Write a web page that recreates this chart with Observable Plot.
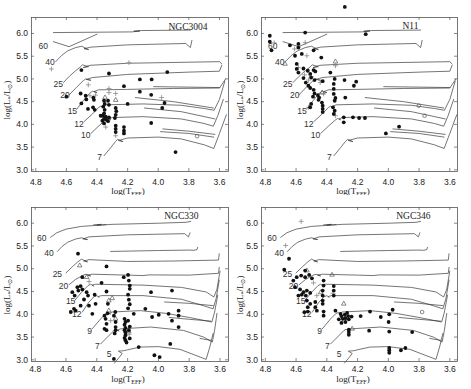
<!DOCTYPE html>
<html><head><meta charset="utf-8">
<script src="https://cdn.jsdelivr.net/npm/d3@7"></script>
<script src="https://cdn.jsdelivr.net/npm/@observablehq/plot@0.6"></script>
<style>
body{margin:0;background:#fff;}
#wrap{position:relative;width:471px;height:389px;overflow:hidden;background:#fff;}
#wrap svg{position:absolute;overflow:visible;}
</style></head><body><div id="wrap"></div>
<script>
// ---------- tick values ----------
const xTicks = [4.8, 4.6, 4.4, 4.2, 4.0, 3.8, 3.6];
const yTicks = [3.0, 3.5, 4.0, 4.5, 5.0, 5.5, 6.0];

// ---------- evolutionary tracks, set A (NGC3004, N11) : [logTeff, logL] per segment ----------
const A60 = [[[4.685,5.82],[4.583,5.71],[4.40,5.985]],
             [[4.685,6.02],[4.17,6.035],[4.12,6.055],[4.16,6.05],[4.11,6.065],[3.79,6.075]]];
const A40 = [[[4.67,5.38],[4.63,5.52],[4.59,5.62],[4.54,5.69],[4.50,5.72],[4.455,5.645],[4.485,5.665],[4.44,5.70],[4.2,5.75],[3.82,5.78],[3.79,5.69],[3.78,5.85]]];
const A25 = [[[4.62,4.92],[4.58,5.06],[4.54,5.18],[4.51,5.26],[4.495,5.31],[4.455,5.27],[4.49,5.25],[4.445,5.30],[4.2,5.345],[3.60,5.38],[3.585,5.33]]];
const A20 = [[[4.583,4.645],[4.53,4.83],[4.49,4.96],[4.475,5.0],[4.44,4.97],[4.47,4.99],[4.43,5.03],[4.2,5.10],[3.8,5.15],[3.60,5.17],[3.585,5.30]]];
const A15 = [[[4.533,4.33],[4.49,4.52],[4.45,4.68],[4.43,4.73],[4.40,4.70],[4.42,4.72],[4.39,4.76],[4.2,4.77],[3.9,4.79],[3.60,4.80],[3.56,5.0]],
             [[4.03,4.83],[3.80,4.82],[3.60,4.81]]];
const A12 = [[[4.485,4.06],[4.43,4.23],[4.39,4.37],[4.375,4.40],[4.35,4.37],[4.365,4.39],[4.34,4.43],[4.1,4.45],[3.85,4.42],[3.70,4.35],[3.635,4.31],[3.60,4.55],[3.565,4.95]],
             [[4.15,4.59],[3.90,4.50],[3.64,4.36]]];
const A10 = [[[4.44,3.80],[4.387,3.97],[4.343,4.10],[4.33,4.13],[4.31,4.10],[4.32,4.12],[4.30,4.15],[4.1,4.17],[3.85,4.12],[3.70,4.02],[3.64,3.96],[3.61,4.2],[3.575,4.55]],
             [[4.09,4.36],[3.85,4.28],[3.63,4.12]]];
const A7  = [[[4.354,3.31],[4.31,3.49],[4.28,3.62],[4.265,3.67],[4.23,3.62],[4.26,3.645],[4.2,3.70],[4.0,3.72],[3.85,3.68],[3.70,3.55],[3.637,3.47],[3.60,3.80],[3.555,4.21]],
             [[3.97,3.90],[3.80,3.85],[3.63,3.78]],
             [[3.985,3.84],[3.80,3.80],[3.637,3.72]]];
const massLabelsA = [["60",4.752,5.715],["40",4.707,5.36],["25",4.654,4.89],["20",4.609,4.63],["15",4.561,4.28],["12",4.517,4.01],["10",4.474,3.75],["7",4.383,3.275]];

// ---------- evolutionary tracks, set B (NGC330, NGC346) ----------
const B60 = [[[4.70,5.69],[4.66,5.79],[4.60,5.87],[4.50,5.93],[4.30,5.975],[4.0,6.0],[3.82,6.02],[3.79,6.04]],
             [[4.42,5.965],[4.37,5.975],[4.40,5.955],[4.34,5.97]]];
const B40 = [[[4.656,5.38],[4.625,5.49],[4.59,5.58],[4.54,5.65],[4.50,5.68],[4.46,5.64],[4.49,5.655],[4.45,5.70],[4.2,5.745],[3.83,5.77],[3.805,5.70],[3.795,5.79]]];
const B25 = [[[4.60,4.91],[4.56,5.04],[4.526,5.144],[4.50,5.21],[4.46,5.15],[4.485,5.17],[4.45,5.20],[4.2,5.16],[3.9,5.17],[3.61,5.19],[3.605,5.33]],
             [[4.31,5.38],[4.0,5.40],[3.80,5.41],[3.77,5.405],[3.75,5.42],[3.745,5.47]]];
const B20 = [[[4.58,4.65],[4.54,4.76],[4.494,4.85],[4.47,4.88],[4.44,4.84],[4.46,4.86],[4.43,4.88],[4.2,4.86],[4.10,4.85],[4.06,4.865],[3.8,4.86],[3.61,4.90],[3.605,5.03]]];
const B15 = [[[4.544,4.30],[4.50,4.48],[4.457,4.63],[4.44,4.66],[4.42,4.62],[4.43,4.64],[4.41,4.66],[4.1,4.64],[3.85,4.59],[3.69,4.49],[3.64,4.38],[3.62,4.55],[3.60,4.95]]];
const B12 = [[[4.494,4.05],[4.455,4.25],[4.42,4.38],[4.40,4.41],[4.385,4.37],[4.39,4.39],[4.37,4.41],[4.1,4.41],[3.85,4.33],[3.70,4.18],[3.645,4.12],[3.625,4.35],[3.605,4.75]],
             [[3.96,4.27],[3.80,4.24],[3.645,4.19]]];
const B9  = [[[4.43,3.68],[4.375,3.90],[4.343,4.01],[4.325,4.04],[4.31,4.00],[4.315,4.02],[4.30,4.05],[4.117,4.08],[3.95,4.02],[3.80,3.93],[3.653,3.83],[3.635,4.05],[3.615,4.42]],
             [[3.93,3.93],[3.80,3.89],[3.66,3.85]]];
const B7  = [[[4.375,3.35],[4.31,3.57],[4.29,3.64],[4.275,3.67],[4.255,3.63],[4.265,3.655],[4.245,3.68],[4.05,3.72],[3.837,3.645],[3.707,3.50],[3.65,3.39],[3.635,3.65],[3.62,4.02]],
             [[3.73,3.47],[3.70,3.45],[3.66,3.43]]];
const B5  = [[[4.285,2.93],[4.255,3.05],[4.235,3.14],[4.26,3.19],[4.225,3.20],[4.20,3.22],[4.12,3.28],[4.0,3.29],[3.86,3.23],[3.69,3.01],[3.665,3.30],[3.645,3.58]]];
const massLabelsB = [["60",4.757,5.67],["40",4.71,5.35],["25",4.656,4.87],["20",4.617,4.62],["15",4.57,4.28],["12",4.53,4.01],["9",4.447,3.63],["7",4.397,3.30],["5",4.32,3.13]];

// ---------- stars: NGC3004 ----------
const n3004Filled = [[4.502,5.195],[4.322,5.12],[3.941,5.15],[4.12,4.99],[4.043,4.99],[4.224,4.84],[4.12,4.72],[4.046,4.65],[4.60,4.61],[4.507,4.68],[4.474,4.63],[4.47,4.55],[4.502,4.46],[4.424,4.59],[4.42,4.54],[4.459,4.34],[4.426,4.375],[4.415,4.32],[4.354,4.52],[4.35,4.45],[4.359,4.39],[4.35,4.32],[4.354,4.24],[4.363,4.19],[4.376,4.19],[4.343,4.17],[4.354,4.12],[4.365,4.08],[4.337,4.10],[4.354,4.02],[4.328,4.52],[4.322,4.43],[4.322,4.155],[4.328,4.07],[4.278,4.36],[4.274,4.29],[4.278,4.21],[4.283,4.14],[4.278,3.97],[4.278,3.90],[4.278,3.83],[4.224,3.94],[4.224,3.86],[4.224,3.80],[4.20,4.45],[3.959,4.47],[3.974,4.36],[4.046,4.03],[3.887,3.39]];
const n3004Plus = [[4.698,5.22],[4.457,4.87],[4.446,4.63],[4.409,4.645],[4.322,4.79],[4.322,4.70],[4.278,4.68],[4.191,5.36],[3.978,4.59],[4.343,3.94],[4.278,3.75]];
const n3004Tri = [[4.348,4.59],[4.278,4.535]];
const n3004Open = [[3.746,3.74]];

// ---------- stars: N11 ----------
const n11Filled = [[4.771,5.95],[4.771,5.82],[4.76,5.63],[4.64,5.74],[4.585,5.77],[4.585,5.69],[4.541,6.02],[4.147,5.985],[4.283,6.585],[4.563,5.55],[4.607,5.51],[4.486,5.63],[4.436,5.47],[4.596,5.33],[4.596,5.22],[4.585,5.14],[4.552,5.23],[4.524,5.18],[4.486,5.195],[4.475,5.165],[4.508,5.11],[4.502,5.03],[4.552,5.02],[4.537,4.92],[4.48,4.975],[4.52,4.85],[4.508,4.80],[4.427,4.95],[4.377,5.14],[4.349,5.0],[4.285,4.975],[4.224,4.85],[4.209,4.94],[4.355,4.89],[4.355,4.78],[4.486,4.76],[4.48,4.68],[4.49,4.61],[4.458,4.645],[4.45,4.59],[4.454,4.54],[4.502,4.45],[4.508,4.375],[4.432,4.48],[4.427,4.41],[4.427,4.34],[4.427,4.27],[4.355,4.67],[4.344,4.58],[4.349,4.52],[4.36,4.375],[4.349,4.30],[4.355,4.23],[4.29,4.155],[4.29,4.045],[4.23,4.155],[4.19,4.14],[4.152,4.14],[4.28,4.59],[3.93,3.95],[4.016,3.80]];
const n11Plus = [[4.742,5.795],[4.541,5.80],[4.53,5.51],[4.585,5.25],[4.545,5.09],[4.519,4.975],[4.443,4.92],[4.421,4.67],[4.519,4.375],[4.344,4.19],[4.344,5.29],[4.61,5.66],[4.50,5.05]];
const n11Tri = [[4.344,5.38],[4.672,5.33],[4.43,4.70]];
const n11Open = [[3.802,4.41],[3.764,4.19]];

// ---------- stars: NGC330 ----------
const n330Filled = [[4.522,5.33],[4.337,5.05],[4.225,4.815],[4.197,4.865],[4.186,4.63],[4.369,4.69],[4.337,4.50],[4.494,4.815],[4.526,4.595],[4.52,4.52],[4.559,4.485],[4.544,4.41],[4.505,4.62],[4.494,4.545],[4.466,4.485],[4.457,4.41],[4.483,4.325],[4.505,4.19],[4.548,4.12],[4.537,4.08],[4.569,4.05],[4.451,4.19],[4.414,4.43],[4.408,4.23],[4.429,4.01],[4.328,4.23],[4.35,3.97],[4.343,3.90],[4.337,3.79],[4.35,3.68],[4.337,3.65],[4.33,4.02],[4.289,3.97],[4.278,3.83],[4.278,3.72],[4.278,3.65],[4.284,3.58],[4.28,4.05],[4.22,3.90],[4.214,3.83],[4.22,3.77],[4.214,3.70],[4.22,3.65],[4.214,3.60],[4.214,3.54],[4.22,3.48],[4.214,3.43],[4.207,3.38],[4.197,3.86],[4.186,3.73],[4.192,3.65],[4.186,3.47],[4.192,4.74],[4.186,4.56],[4.197,4.43],[4.192,4.32],[4.186,4.22],[4.197,4.13],[4.16,4.01],[4.085,4.12],[4.048,4.485],[3.912,4.52],[4.041,3.94],[3.998,3.99],[3.934,4.01],[3.912,3.86],[3.869,4.08],[3.869,3.97],[3.869,3.72],[3.923,3.35],[4.128,3.28],[4.026,3.10],[3.992,3.06],[4.289,3.02]];
const n330Plus = [[4.45,4.72],[4.31,3.86],[4.19,3.56]];
const n330Tri = [[4.511,5.07],[4.466,4.815],[4.322,4.30],[4.322,4.08],[4.278,3.90],[4.192,3.62],[4.30,4.35]];
const n330Open = [];

// ---------- stars: NGC346 ----------
const n346Filled = [[4.646,5.22],[4.677,4.98],[4.541,4.96],[4.618,4.74],[4.596,4.815],[4.567,4.85],[4.541,4.815],[4.515,4.865],[4.497,4.79],[4.421,4.74],[4.421,4.63],[4.607,4.595],[4.574,4.545],[4.552,4.485],[4.53,4.52],[4.585,4.41],[4.563,4.43],[4.537,4.41],[4.508,4.47],[4.53,4.30],[4.508,4.23],[4.524,4.155],[4.546,4.047],[4.524,4.06],[4.475,4.27],[4.475,4.155],[4.465,4.08],[4.427,4.30],[4.427,4.23],[4.427,4.41],[4.427,4.52],[4.355,4.62],[4.355,4.52],[4.355,4.41],[4.421,4.06],[4.421,3.97],[4.344,4.08],[4.311,4.01],[4.305,3.96],[4.296,3.90],[4.283,3.99],[4.279,3.915],[4.268,4.03],[4.261,3.96],[4.279,3.83],[4.257,3.89],[4.305,3.81],[4.322,3.89],[4.239,3.95],[4.18,3.96],[4.119,4.06],[3.972,4.10],[3.998,3.83],[4.049,3.94],[3.994,4.0],[3.994,3.62],[4.125,3.64],[4.257,3.665],[4.257,3.61],[4.257,3.55],[3.845,3.61],[3.994,3.26],[3.994,3.21],[3.994,3.155],[3.918,3.21],[3.889,3.26]];
const n346Plus = [[4.567,6.04],[4.668,5.51],[4.487,4.69],[4.465,4.41],[4.30,3.83],[4.36,4.46]];
const n346Tri = [[4.366,4.865],[4.29,4.23],[4.235,3.68],[4.53,4.96],[4.44,4.48]];
const n346Open = [[3.78,4.05]];

// ---------- build ----------
function trackRows(tracks){
  const out = [];
  tracks.forEach((segs, ti) => segs.forEach((seg, si) =>
    seg.forEach(p => out.push({t: p[0], l: p[1], id: ti * 10 + si}))));
  return out;
}

function addAxisLabels(svg, c){
  const s = d3.select(svg);
  const xl = s.append("text").attr("x", c.xlx).attr("y", c.xly)
    .attr("text-anchor", "middle").attr("font-family", "Liberation Serif")
    .attr("font-size", 9).attr("fill", "#222");
  xl.append("tspan").text("log(T");
  xl.append("tspan").attr("font-size", 6).attr("dy", 2).text("EFF");
  xl.append("tspan").attr("dy", -2).text(")");
  const yl = s.append("text").attr("transform", `translate(${c.ylx},${c.yly}) rotate(-90)`)
    .attr("text-anchor", "middle").attr("font-family", "Liberation Serif")
    .attr("font-size", 9).attr("fill", "#222");
  yl.append("tspan").text("log(L");
  yl.append("tspan").attr("font-size", 6).attr("dy", 2).text("*");
  yl.append("tspan").attr("dy", -2).text("/L");
  yl.append("tspan").attr("font-size", 6).attr("dy", 2).text("\u2299");
  yl.append("tspan").attr("dy", -2).text(")");
}

function panel(c){
  const fh = c.height - c.mt - c.mb, fw = c.width - c.ml - c.mr;
  const P = d => d[0], Q = d => d[1];
  const svg = Plot.plot({
    width: c.width, height: c.height,
    marginTop: c.mt, marginBottom: c.mb, marginLeft: c.ml, marginRight: c.mr,
    x: {domain: c.xdom},
    y: {domain: c.ydom},
    style: {fontFamily: "Liberation Sans, Arial, sans-serif", fontSize: "8.5px", background: "white", color: "#222"},
    marks: [
      Plot.line(trackRows(c.tracks), {x: "t", y: "l", z: "id", stroke: "#3a3a3a", strokeWidth: 0.7}),
      Plot.frame({stroke: "#555", strokeWidth: 0.8}),
      Plot.ruleX(xTicks, {x: d => d, insetTop: fh - 3, stroke: "#555", strokeWidth: 0.7}),
      Plot.ruleX(xTicks, {x: d => d, insetBottom: fh - 3, stroke: "#555", strokeWidth: 0.7}),
      Plot.ruleY(yTicks, {y: d => d, insetRight: fw - 3, stroke: "#555", strokeWidth: 0.7}),
      Plot.ruleY(yTicks, {y: d => d, insetLeft: fw - 3, stroke: "#555", strokeWidth: 0.7}),
      Plot.axisX({ticks: xTicks, tickSize: 0, tickPadding: c.xpad, tickFormat: d3.format(".1f"), label: null}),
      Plot.axisY({ticks: yTicks, tickSize: 0, tickPadding: 3.5, tickFormat: d3.format(".1f"), label: null}),
      Plot.text(c.labels, {x: d => d[1], y: d => d[2], text: d => d[0], fontSize: 8.5, fill: "#333"}),
      Plot.dot(c.plus, {x: P, y: Q, symbol: "plus", r: 1.7, stroke: "#8a8a8a", strokeWidth: 0.8}),
      Plot.dot(c.tri, {x: P, y: Q, symbol: "triangle", r: 1.7, stroke: "#555", strokeWidth: 0.7, fill: "none"}),
      Plot.dot(c.open, {x: P, y: Q, r: 1.8, stroke: "#555", strokeWidth: 0.7, fill: "none"}),
      Plot.dot(c.filled, {x: P, y: Q, r: 1.9, fill: "#111", stroke: "none"}),
      Plot.text([c.name], {frameAnchor: "top-right", text: d => d, dx: c.ndx, dy: c.ndy, textAnchor: "end", lineAnchor: "middle",
        fontFamily: "Liberation Serif", fontSize: 9.5, fill: "#222"})
    ]
  });
  svg.style.left = c.left + "px";
  svg.style.top = c.top + "px";
  addAxisLabels(svg, c);
  document.getElementById("wrap").appendChild(svg);
}

const tracksA = [A7, A10, A12, A15, A20, A25, A40, A60];
const tracksB = [B5, B7, B9, B12, B15, B20, B25, B40, B60];

panel({name: "NGC3004", left: 0, top: 0, width: 235, height: 195, ml: 31, mr: 7, mt: 17, mb: 24,
  xdom: [4.828, 3.541], ydom: [2.963, 6.352], xpad: 7, ndx: -21, ndy: 9,
  tracks: tracksA, labels: massLabelsA, filled: n3004Filled, plus: n3004Plus, tri: n3004Tri, open: n3004Open,
  xlx: 128, xly: 194, ylx: 10, yly: 100});
panel({name: "N11", left: 235, top: 0, width: 236, height: 195, ml: 26, mr: 14, mt: 17, mb: 24,
  xdom: [4.825, 3.55], ydom: [2.963, 6.352], xpad: 7, ndx: -39, ndy: 8,
  tracks: tracksA, labels: massLabelsA, filled: n11Filled, plus: n11Plus, tri: n11Tri, open: n11Open,
  xlx: 118, xly: 194, ylx: 7.5, yly: 100});
panel({name: "NGC330", left: 0, top: 195, width: 235, height: 194, ml: 31, mr: 7, mt: 12, mb: 28,
  xdom: [4.824, 3.545], ydom: [2.963, 6.345], xpad: 4.5, ndx: -30, ndy: 8,
  tracks: tracksB, labels: massLabelsB, filled: n330Filled, plus: n330Plus, tri: n330Tri, open: n330Open,
  xlx: 128, xly: 187, ylx: 10, yly: 100});
panel({name: "NGC346", left: 235, top: 195, width: 236, height: 194, ml: 26, mr: 14, mt: 12, mb: 28,
  xdom: [4.825, 3.55], ydom: [2.963, 6.345], xpad: 4.5, ndx: -27, ndy: 8,
  tracks: tracksB, labels: massLabelsB, filled: n346Filled, plus: n346Plus, tri: n346Tri, open: n346Open,
  xlx: 118, xly: 187, ylx: 7.5, yly: 100});
</script>
</body></html>
